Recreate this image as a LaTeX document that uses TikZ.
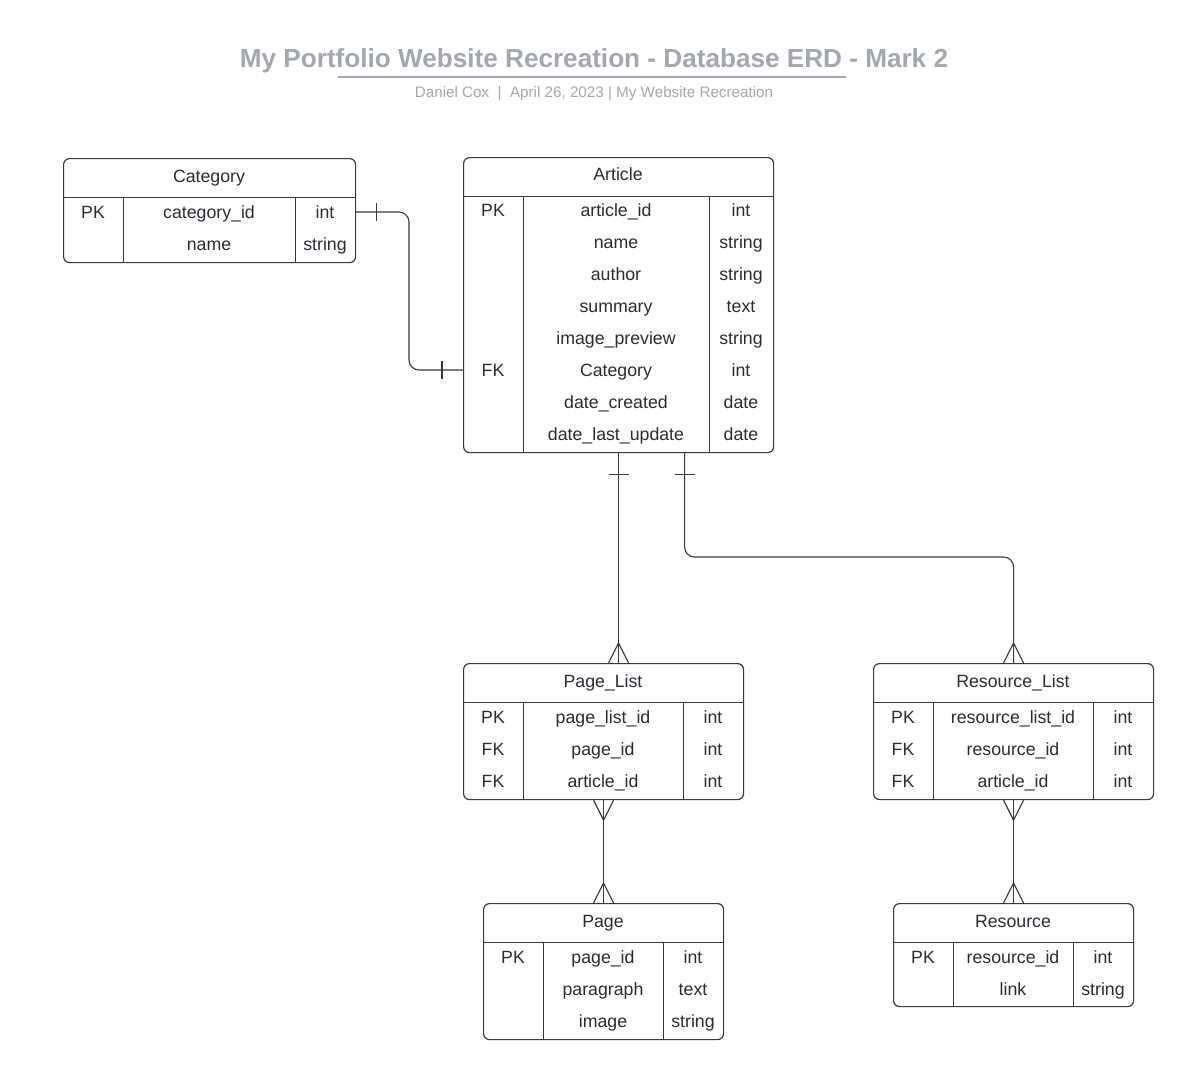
\documentclass[tikz,border=0pt]{standalone}
\usepackage{fontspec}
\newfontfamily\lsans{Liberation Sans}
\usetikzlibrary{calc}
\definecolor{titlegray}{RGB}{163,168,176}
\definecolor{linegray}{RGB}{58,58,60}
\definecolor{textdark}{RGB}{40,44,51}
\begin{document}
\begin{tikzpicture}[x=0.75pt,y=-0.75pt,
	tbl/.style={draw=linegray, line width=0.9pt, rounded corners=4.5pt, anchor=north west, inner sep=0pt},
	tline/.style={draw=linegray, line width=0.75pt},
	fld/.style={text=textdark, font=\lsans\fontsize{13.3}{16}\selectfont, inner sep=0pt, text height=9.6pt, text depth=0pt},
	rel/.style={draw=linegray, line width=0.85pt, rounded corners=7.5pt},
	footline/.style={draw=linegray, line width=0.85pt}]
	\fill[white] (0,0) rectangle (1193,1078);
	\useasboundingbox (0,0) rectangle (1193,1078);
	% heading
	\node[text=titlegray, font=\lsans\bfseries\fontsize{19.6}{23}\selectfont] (title) at (594,61) {My Portfolio Website Recreation - Database ERD - Mark 2};
	\draw[titlegray, line width=1.5pt] (338,77) -- (846,77);
	\node[text=titlegray, font=\lsans\fontsize{11.4}{14}\selectfont] (subtitle) at (594,94) {Daniel Cox\ \ |\ \ April 26, 2023 | My Website Recreation};

	% Category
	\node[tbl, minimum width=219pt, minimum height=78pt] (cat) at (63,158) {};
	\node[fld] (cat-t) at (209,176) {Category};
	\draw[tline] (cat.west |- 0,197) -- (cat.east |- 0,197);
	\draw[tline] (123,197) -- (123,262);
	\draw[tline] (295,197) -- (295,262);
	\foreach \k/\f/\t [count=\i] in {PK/category\_id/int, /name/string} {
		\node[fld] (cat-k\i) at (93,{180+32*\i}) {\k};
		\node[fld] (cat-n\i) at (209,{180+32*\i}) {\f};
		\node[fld] (cat-y\i) at (325,{180+32*\i}) {\t};
	}

	% Article
	\node[tbl, minimum width=232.5pt, minimum height=221.25pt] (art) at (463,157) {};
	\node[fld] (art-t) at (618,174) {Article};
	\draw[tline] (art.west |- 0,196) -- (art.east |- 0,196);
	\draw[tline] (523,196) -- (523,452);
	\draw[tline] (709,196) -- (709,452);
	\foreach \k/\f/\t [count=\i] in {PK/article\_id/int, /name/string, /author/string, /summary/text,
		/image\_preview/string, FK/Category/int, /date\_created/date, /date\_last\_update/date} {
		\node[fld] (art-k\i) at (493,{178+32*\i}) {\k};
		\node[fld] (art-n\i) at (616,{178+32*\i}) {\f};
		\node[fld] (art-y\i) at (741,{178+32*\i}) {\t};
	}

	% Page_List
	\node[tbl, minimum width=210pt, minimum height=102pt] (pl) at (463,663) {};
	\node[fld] (pl-t) at (603,681) {Page\_List};
	\draw[tline] (pl.west |- 0,702) -- (pl.east |- 0,702);
	\draw[tline] (523,702) -- (523,799);
	\draw[tline] (683,702) -- (683,799);
	\foreach \k/\f/\t [count=\i] in {PK/page\_list\_id/int, FK/page\_id/int, FK/article\_id/int} {
		\node[fld] (pl-k\i) at (493,{685+32*\i}) {\k};
		\node[fld] (pl-n\i) at (603,{685+32*\i}) {\f};
		\node[fld] (pl-y\i) at (713,{685+32*\i}) {\t};
	}

	% Resource_List
	\node[tbl, minimum width=210pt, minimum height=102pt] (rl) at (873,663) {};
	\node[fld] (rl-t) at (1013,681) {Resource\_List};
	\draw[tline] (rl.west |- 0,702) -- (rl.east |- 0,702);
	\draw[tline] (933,702) -- (933,799);
	\draw[tline] (1093,702) -- (1093,799);
	\foreach \k/\f/\t [count=\i] in {PK/resource\_list\_id/int, FK/resource\_id/int, FK/article\_id/int} {
		\node[fld] (rl-k\i) at (903,{685+32*\i}) {\k};
		\node[fld] (rl-n\i) at (1013,{685+32*\i}) {\f};
		\node[fld] (rl-y\i) at (1123,{685+32*\i}) {\t};
	}

	% Page
	\node[tbl, minimum width=180pt, minimum height=102pt] (pg) at (483,903) {};
	\node[fld] (pg-t) at (603,921) {Page};
	\draw[tline] (pg.west |- 0,942) -- (pg.east |- 0,942);
	\draw[tline] (543,942) -- (543,1039);
	\draw[tline] (663,942) -- (663,1039);
	\foreach \k/\f/\t [count=\i] in {PK/page\_id/int, /paragraph/text, /image/string} {
		\node[fld] (pg-k\i) at (513,{925+32*\i}) {\k};
		\node[fld] (pg-n\i) at (603,{925+32*\i}) {\f};
		\node[fld] (pg-y\i) at (693,{925+32*\i}) {\t};
	}

	% Resource
	\node[tbl, minimum width=180pt, minimum height=77.25pt] (res) at (893,903) {};
	\node[fld] (res-t) at (1013,921) {Resource};
	\draw[tline] (res.west |- 0,942) -- (res.east |- 0,942);
	\draw[tline] (953,942) -- (953,1006);
	\draw[tline] (1073,942) -- (1073,1006);
	\foreach \k/\f/\t [count=\i] in {PK/resource\_id/int, /link/string} {
		\node[fld] (res-k\i) at (923,{925+32*\i}) {\k};
		\node[fld] (res-n\i) at (1013,{925+32*\i}) {\f};
		\node[fld] (res-y\i) at (1103,{925+32*\i}) {\t};
	}

	% relations
	\coordinate (cat-out) at (cat-n1 -| cat.east);
	\coordinate (art-in) at (art-k6 -| art.west);
	\draw[rel] (cat-out) -| (409,0 |- art-in) -- (art-in);
	\draw[footline] ($(cat-out)+(20,-9)$) -- ++(0,18);
	\draw[footline] ($(art-in)+(-21,-9)$) -- ++(0,18);

	\coordinate (pl-in) at (art.south |- pl.north);
	\draw[rel] (art.south) -- (pl-in);
	\draw[footline] ($(art.south)+(-10,21)$) -- ++(20,0);
	\draw[footline] ($(pl-in)+(-10,0)$) -- ++(10,-20) -- ++(10,20);

	\coordinate (art-out) at ($(art.south)+(66,0)$);
	\draw[rel] (art-out) -- (art-out |- 0,557) -| (rl.north);
	\draw[footline] ($(art-out)+(-10,21)$) -- ++(20,0);
	\draw[footline] ($(rl.north)+(-10,0)$) -- ++(10,-20) -- ++(10,20);

	\draw[rel] (pl.south) -- (pg.north);
	\draw[footline] ($(pl.south)+(-10,0)$) -- ++(10,20) -- ++(10,-20);
	\draw[footline] ($(pg.north)+(-10,0)$) -- ++(10,-20) -- ++(10,20);

	\draw[rel] (rl.south) -- (res.north);
	\draw[footline] ($(rl.south)+(-10,0)$) -- ++(10,20) -- ++(10,-20);
	\draw[footline] ($(res.north)+(-10,0)$) -- ++(10,-20) -- ++(10,20);
\end{tikzpicture}
\end{document}
